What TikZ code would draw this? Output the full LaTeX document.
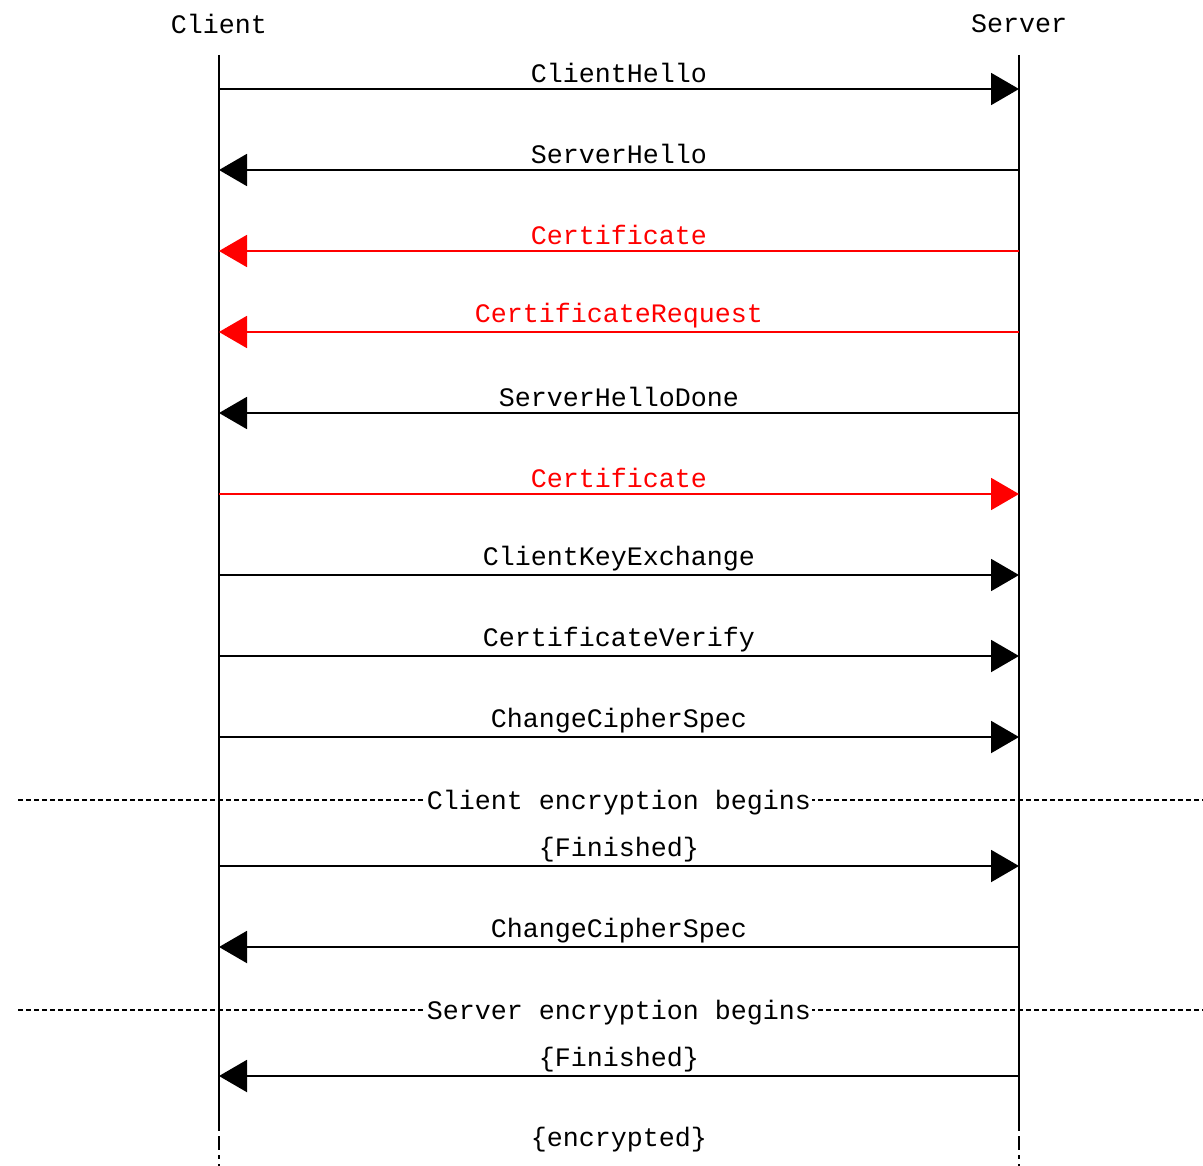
\documentclass[tikz,border=0pt]{standalone}
\usepackage{fontspec}
\newfontfamily\mscfont{Liberation Mono}
\usetikzlibrary{arrows.meta}
\definecolor{msgred}{RGB}{255,0,0}
\begin{document}
\begin{tikzpicture}[x=0.75pt,y=-0.75pt,
  every node/.style={font=\mscfont\fontsize{20}{24}\selectfont, inner sep=0pt},
  lifeline/.style={line width=1.5pt, draw=black},
  msg/.style={line width=1.5pt, -{Triangle[length=21pt,width=24pt]}},
  redmsg/.style={msg, draw=msgred, text=msgred, fill=msgred},
  lbl/.style={midway, yshift=12pt, anchor=center},
  sep/.style={line width=0.9pt, dash pattern=on 3.5pt off 2.5pt},
  septext/.style={fill=white, inner xsep=1pt, inner ysep=2pt}]
\useasboundingbox (0,0) rectangle (1203,1166);
% participants
\node (client) at (219,24) {Client};
\node (server) at (1019,24) {Server};
\coordinate (ctop) at (219,55);
\coordinate (stop) at (1019,55);
\coordinate (cend) at (219,1127);
\coordinate (send) at (1019,1127);
\coordinate (cbot) at (219,1166);
\coordinate (sbot) at (1019,1166);
\draw[lifeline] (ctop) -- (cend);
\draw[lifeline] (stop) -- (send);
\draw[lifeline, dash pattern=on 3pt off 4pt on 10pt off 4pt] (cend) -- (cbot);
\draw[lifeline, dash pattern=on 3pt off 4pt on 10pt off 4pt] (send) -- (sbot);
% message coordinates
\foreach \i/\y in {1/89,2/170,3/251,4/332,5/413,6/494,7/575,8/656,9/737,10/866,11/947,12/1076}{
  \coordinate (c\i) at (219,\y);
  \coordinate (s\i) at (1019,\y);
}
\draw[msg, fill=black] (c1) -- node[lbl]{ClientHello} (s1);
\draw[msg, fill=black] (s2) -- node[lbl]{ServerHello} (c2);
\draw[redmsg] (s3) -- node[lbl, fill=none]{Certificate} (c3);
\draw[redmsg] (s4) -- node[lbl, fill=none]{CertificateRequest} (c4);
\draw[msg, fill=black] (s5) -- node[lbl, fill=none]{ServerHelloDone} (c5);
\draw[redmsg] (c6) -- node[lbl, fill=none]{Certificate} (s6);
\draw[msg, fill=black] (c7) -- node[lbl, fill=none]{ClientKeyExchange} (s7);
\draw[msg, fill=black] (c8) -- node[lbl, fill=none]{CertificateVerify} (s8);
\draw[msg, fill=black] (c9) -- node[lbl, fill=none]{ChangeCipherSpec} (s9);
\draw[msg, fill=black] (c10) -- node[lbl, fill=none]{\{Finished\}} (s10);
\draw[msg, fill=black] (s11) -- node[lbl, fill=none]{ChangeCipherSpec} (c11);
\draw[msg, fill=black] (s12) -- node[lbl, fill=none]{\{Finished\}} (c12);
% separators
\coordinate (sep1l) at (18,800);
\coordinate (sep1r) at (1203,800);
\coordinate (sep2l) at (18,1010);
\coordinate (sep2r) at (1203,1010);
\draw[sep] (sep1l) -- (sep1r);
\draw[sep] (sep2l) -- (sep2r);
\node[septext] (enc1) at (619,803) {Client encryption begins};
\node[septext] (enc2) at (619,1013) {Server encryption begins};
\node (encrypted) at (619,1140) {\{encrypted\}};
\end{tikzpicture}
\end{document}
